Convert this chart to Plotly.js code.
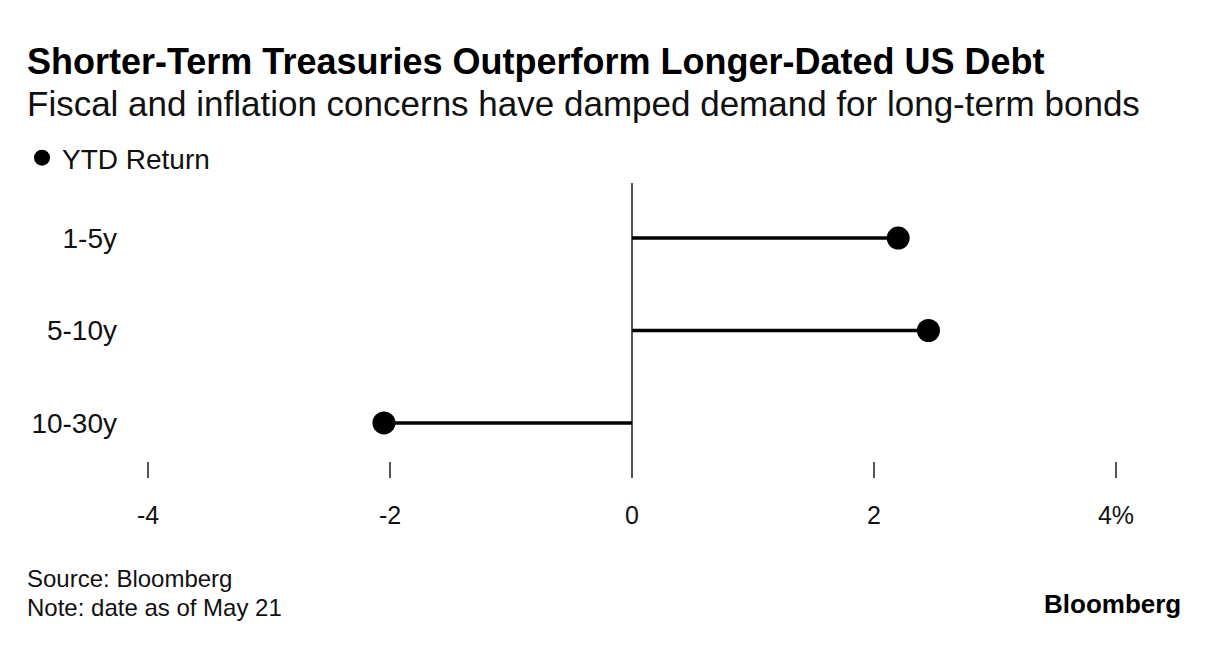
<!DOCTYPE html>
<html>
<head>
<meta charset="utf-8">
<script src="https://cdn.plot.ly/plotly-3.0.1.min.js"></script>
<style>
html,body{margin:0;padding:0;background:#fff;}
#chart{width:1221px;height:648px;}
</style>
</head>
<body>
<div id="chart"></div>
<script>
const categories = ["1-5y", "5-10y", "10-30y"];
const ytdReturn = [2.2, 2.45, -2.05];
const tickVals = [-4, -2, 0, 2, 4];
const tickText = ["-4", "-2", "0", "2", "4%"];

const FONT = "Liberation Sans, Arial, sans-serif";

// stems
const stemX = [], stemY = [];
categories.forEach((c, i) => {
  stemX.push(0, ytdReturn[i], null);
  stemY.push(c, c, null);
});

const traces = [
  {
    type: "scatter", mode: "lines",
    x: stemX, y: stemY,
    line: {color: "#000", width: 3.5},
    showlegend: false, hoverinfo: "skip"
  },
  {
    type: "scatter", mode: "markers",
    name: "YTD Return",
    x: ytdReturn, y: categories,
    marker: {color: "#000", size: 23},
    showlegend: true
  }
];

const L = 145, PW = 974;
const px = (x) => (x - L) / PW;

const layout = {
  width: 1221, height: 648,
  paper_bgcolor: "#fff", plot_bgcolor: "#fff",
  margin: {l: L, r: 1221 - L - PW, t: 183, b: 170},
  font: {family: FONT, color: "#111"},
  showlegend: true,
  legend: {
    x: px(22), xanchor: "left", y: 1.0, yanchor: "bottom",
    orientation: "h",
    font: {size: 28, color: "#111", family: FONT},
    itemsizing: "trace", itemwidth: 30,
    bgcolor: "rgba(0,0,0,0)"
  },
  xaxis: {
    range: [-4.025, 4.025],
    tickvals: tickVals, ticktext: tickText,
    showgrid: false, zeroline: true, zerolinecolor: "#555", zerolinewidth: 1.5,
    showline: false,
    ticks: "inside", ticklen: 16, tickwidth: 1.5, tickcolor: "#555",
    tickfont: {size: 25, color: "#111", family: FONT},
    ticklabelstandoff: 20,
    fixedrange: true
  },
  yaxis: {
    type: "category",
    categoryorder: "array", categoryarray: categories,
    range: [2.595, -0.595],
    showgrid: false, zeroline: false, showline: false, ticks: "",
    tickfont: {size: 28, color: "#111", family: FONT},
    ticklabelstandoff: 27,
    fixedrange: true
  },
  annotations: [
    {text: "<b>Shorter-Term Treasuries Outperform Longer-Dated US Debt</b>", xref: "paper", yref: "paper",
     x: px(25), xanchor: "left", y: 1.0, yanchor: "middle", yshift: 122, showarrow: false,
     font: {size: 36, color: "#000", family: FONT}},
    {text: "Fiscal and inflation concerns have damped demand for long-term bonds", xref: "paper", yref: "paper",
     x: px(25), xanchor: "left", y: 1.0, yanchor: "middle", yshift: 80, showarrow: false,
     font: {size: 35, color: "#111", family: FONT}},
    {text: "Source: Bloomberg", xref: "paper", yref: "paper",
     x: px(25), xanchor: "left", y: 0, yanchor: "middle", yshift: -100, showarrow: false,
     font: {size: 24, color: "#111", family: FONT}},
    {text: "Note: date as of May 21", xref: "paper", yref: "paper",
     x: px(25), xanchor: "left", y: 0, yanchor: "middle", yshift: -129, showarrow: false,
     font: {size: 24, color: "#111", family: FONT}},
    {text: "<b>Bloomberg</b>", xref: "paper", yref: "paper",
     x: px(1183), xanchor: "right", y: 0, yanchor: "middle", yshift: -126, showarrow: false,
     font: {size: 26, color: "#000", family: FONT}}
  ]
};

Plotly.newPlot("chart", traces, layout, {displayModeBar: false, staticPlot: true});
</script>
</body>
</html>
